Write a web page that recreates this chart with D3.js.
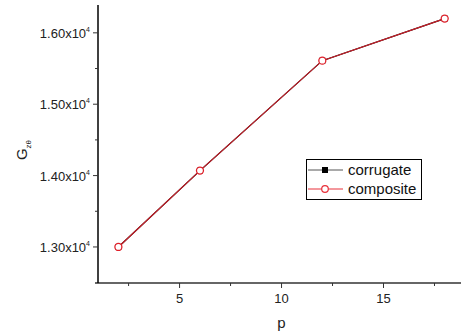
<!DOCTYPE html>
<html>
<head>
<meta charset="utf-8">
<script src="https://cdn.jsdelivr.net/npm/d3@7/dist/d3.min.js"></script>
<style>
  html, body { margin: 0; padding: 0; background: #fff; }
  svg { display: block; font-family: Arial, "Liberation Sans", sans-serif; }
</style>
</head>
<body>
<svg id="chart" width="461" height="336"></svg>
<script>
// Shear modulus G_zθ versus p for the two panel types
const pValues = [2, 6, 12, 18];
const corrugate = [13000, 14070, 15610, 16200];
const composite = [13000, 14070, 15610, 16200];
const seriesNames = ["corrugate", "composite"];
const xTicks = [5, 10, 15];
const yTicks = [13000, 14000, 15000, 16000];
const yTickLabels = ["1.30x10", "1.40x10", "1.50x10", "1.60x10"];

const svg = d3.select("#chart");
const plotLeft = 98, plotRight = 461, plotTop = 5, plotBottom = 283;

const x = d3.scaleLinear().domain([1, 18.8]).range([plotLeft, plotRight]);
const y = d3.scaleLinear().domain([12495, 16390]).range([plotBottom, plotTop]);

// X axis (grey) with minor ticks at half steps
const xAxisG = svg.append("g");
xAxisG.append("line")
  .attr("x1", plotLeft - 3).attr("x2", plotRight)
  .attr("y1", plotBottom).attr("y2", plotBottom)
  .attr("stroke", "#666").attr("stroke-width", 2);
const xMinor = d3.range(2.5, 18.8, 5);
xAxisG.selectAll(".xminor").data(xMinor).enter().append("line")
  .attr("x1", d => x(d)).attr("x2", d => x(d))
  .attr("y1", plotBottom).attr("y2", plotBottom + 3)
  .attr("stroke", "#333").attr("stroke-width", 1);
xAxisG.selectAll(".xmajor").data(xTicks).enter().append("line")
  .attr("x1", d => x(d)).attr("x2", d => x(d))
  .attr("y1", plotBottom).attr("y2", plotBottom + 5)
  .attr("stroke", "#333").attr("stroke-width", 1);
xAxisG.selectAll(".xlab").data(xTicks).enter().append("text")
  .attr("x", d => x(d)).attr("y", plotBottom + 20)
  .attr("text-anchor", "middle").attr("font-size", 13).attr("fill", "#222")
  .text(d => d);

// Y axis (black)
const yAxisG = svg.append("g");
yAxisG.append("line")
  .attr("x1", plotLeft).attr("x2", plotLeft)
  .attr("y1", plotTop).attr("y2", plotBottom)
  .attr("stroke", "#000").attr("stroke-width", 1.5);
const yMinor = [13500, 14500, 15500];
yAxisG.selectAll(".yminor").data(yMinor).enter().append("line")
  .attr("x1", plotLeft - 3).attr("x2", plotLeft)
  .attr("y1", d => y(d)).attr("y2", d => y(d))
  .attr("stroke", "#333").attr("stroke-width", 1);
yAxisG.selectAll(".ymajor").data(yTicks).enter().append("line")
  .attr("x1", plotLeft - 5).attr("x2", plotLeft)
  .attr("y1", d => y(d)).attr("y2", d => y(d))
  .attr("stroke", "#333").attr("stroke-width", 1);
const yLab = yAxisG.selectAll(".ylab").data(yTicks).enter().append("text")
  .attr("x", plotLeft - 8).attr("y", d => y(d) + 5)
  .attr("text-anchor", "end").attr("font-size", 13).attr("fill", "#222");
yLab.append("tspan").text((d, i) => yTickLabels[i]);
yLab.append("tspan").attr("dy", -6).attr("font-size", 7).text("4");

// Axis titles
svg.append("text")
  .attr("x", x(10)).attr("y", 328)
  .attr("text-anchor", "middle").attr("font-size", 15).attr("fill", "#222")
  .text("p");
const yTitle = svg.append("text")
  .attr("transform", "translate(27,150) rotate(-90)")
  .attr("text-anchor", "middle").attr("font-size", 15).attr("fill", "#222");
yTitle.append("tspan").text("G");
yTitle.append("tspan").attr("dy", 4).attr("font-size", 8).text("zθ");

// Series lines and markers
const line = d3.line().x((d, i) => x(pValues[i])).y(d => y(d));

svg.append("path").datum(corrugate)
  .attr("d", line).attr("fill", "none")
  .attr("stroke", "#000").attr("stroke-width", 1.2);
svg.selectAll(".mk1").data(corrugate).enter().append("rect")
  .attr("x", (d, i) => x(pValues[i]) - 3).attr("y", d => y(d) - 3)
  .attr("width", 6).attr("height", 6).attr("fill", "#000");

svg.append("path").datum(composite)
  .attr("d", line).attr("fill", "none")
  .attr("stroke", "#c8202a").attr("stroke-width", 1.2);
svg.selectAll(".mk2").data(composite).enter().append("circle")
  .attr("cx", (d, i) => x(pValues[i])).attr("cy", d => y(d))
  .attr("r", 3.5).attr("fill", "#fff")
  .attr("stroke", "#e0202a").attr("stroke-width", 1.3);

// Legend
const lg = svg.append("g");
lg.append("rect")
  .attr("x", 306.5).attr("y", 159.5).attr("width", 115).attr("height", 40)
  .attr("fill", "#fff").attr("stroke", "#000").attr("stroke-width", 1);
const rows = [170, 189];
lg.append("line").attr("x1", 308).attr("x2", 343).attr("y1", rows[0]).attr("y2", rows[0])
  .attr("stroke", "#555").attr("stroke-width", 1);
lg.append("rect").attr("x", 322).attr("y", rows[0] - 3).attr("width", 6).attr("height", 6).attr("fill", "#000");
lg.append("line").attr("x1", 308).attr("x2", 343).attr("y1", rows[1]).attr("y2", rows[1])
  .attr("stroke", "#e8303a").attr("stroke-width", 1);
lg.append("circle").attr("cx", 325).attr("cy", rows[1]).attr("r", 3.3)
  .attr("fill", "#fff").attr("stroke", "#e8303a").attr("stroke-width", 1.2);
lg.selectAll(".lt").data(seriesNames).enter().append("text")
  .attr("x", 348).attr("y", (d, i) => rows[i] + 5)
  .attr("font-size", 15).attr("fill", "#111")
  .text(d => d);
</script>
</body>
</html>
